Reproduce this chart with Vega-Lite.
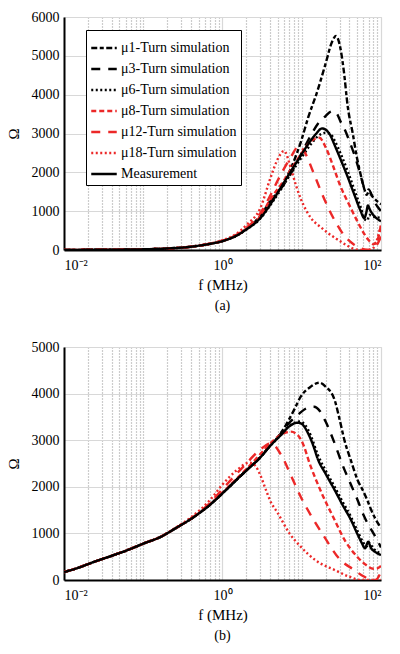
{
  "$schema": "https://vega.github.io/schema/vega-lite/v6.json",
  "background": "white",
  "padding": {"left": 5, "top": 9, "right": 5, "bottom": 5},
  "config": {
    "font": "Times New Roman",
    "view": {"stroke": "#d4d4d4", "strokeWidth": 1},
    "axis": {
      "labelFont": "Times New Roman",
      "titleFont": "Times New Roman",
      "labelFontSize": 14,
      "titleFontSize": 15,
      "titleFontWeight": "normal",
      "labelColor": "black",
      "titleColor": "black",
      "domainColor": "black",
      "domainWidth": 2,
      "gridColor": "#d8d8d8",
      "gridWidth": 1.2,
      "ticks": false
    },
    "legend": {
      "labelFont": "Times New Roman",
      "labelFontSize": 14,
      "labelColor": "black",
      "symbolType": "stroke",
      "symbolSize": 650,
      "symbolStrokeWidth": 2.4,
      "strokeColor": "black",
      "fillColor": "white",
      "padding": 4,
      "rowPadding": 0,
      "labelOffset": 3,
      "labelLimit": 200
    },
    "title": {"font": "Times New Roman", "fontSize": 14, "fontWeight": "normal", "color": "black", "orient": "bottom", "offset": 7}
  },
  "datasets": {
    "top": [
      {"s": "1", "f": 0.01, "z": 3}, {"s": "1", "f": 0.02, "z": 5}, {"s": "1", "f": 0.05, "z": 10}, {"s": "1", "f": 0.1, "z": 18}, {"s": "1", "f": 0.2, "z": 38}, {"s": "1", "f": 0.4, "z": 85}, {"s": "1", "f": 0.7, "z": 160}, {"s": "1", "f": 1, "z": 235}, {"s": "1", "f": 1.5, "z": 380}, {"s": "1", "f": 2, "z": 545},
      {"s": "1", "f": 3, "z": 880}, {"s": "1", "f": 4, "z": 1260}, {"s": "1", "f": 5, "z": 1500}, {"s": "1", "f": 6, "z": 1750}, {"s": "1", "f": 8, "z": 2300}, {"s": "1", "f": 9.8, "z": 2800}, {"s": "1", "f": 12, "z": 3400}, {"s": "1", "f": 15.8, "z": 4100}, {"s": "1", "f": 20, "z": 4800}, {"s": "1", "f": 24, "z": 5350}, {"s": "1", "f": 27, "z": 5510}, {"s": "1", "f": 30, "z": 5300}, {"s": "1", "f": 34, "z": 4600}, {"s": "1", "f": 38, "z": 3700}, {"s": "1", "f": 44, "z": 3000}, {"s": "1", "f": 50, "z": 2350}, {"s": "1", "f": 56, "z": 1900}, {"s": "1", "f": 62, "z": 1550}, {"s": "1", "f": 66, "z": 1420}, {"s": "1", "f": 70, "z": 1500}, {"s": "1", "f": 80, "z": 1350}, {"s": "1", "f": 90, "z": 1250}, {"s": "1", "f": 100, "z": 1180},
      {"s": "3", "f": 0.01, "z": 3}, {"s": "3", "f": 0.02, "z": 5}, {"s": "3", "f": 0.05, "z": 10}, {"s": "3", "f": 0.1, "z": 18}, {"s": "3", "f": 0.2, "z": 38}, {"s": "3", "f": 0.4, "z": 85}, {"s": "3", "f": 0.7, "z": 160}, {"s": "3", "f": 1, "z": 232}, {"s": "3", "f": 1.5, "z": 375}, {"s": "3", "f": 2, "z": 540},
      {"s": "3", "f": 3, "z": 870}, {"s": "3", "f": 4, "z": 1250}, {"s": "3", "f": 5, "z": 1480}, {"s": "3", "f": 6, "z": 1700}, {"s": "3", "f": 8, "z": 2120}, {"s": "3", "f": 10, "z": 2500}, {"s": "3", "f": 13, "z": 2950}, {"s": "3", "f": 16, "z": 3250}, {"s": "3", "f": 20, "z": 3450}, {"s": "3", "f": 23, "z": 3560}, {"s": "3", "f": 25, "z": 3580}, {"s": "3", "f": 28, "z": 3500}, {"s": "3", "f": 31, "z": 3300}, {"s": "3", "f": 34, "z": 3150}, {"s": "3", "f": 40, "z": 2800}, {"s": "3", "f": 46, "z": 2460}, {"s": "3", "f": 54, "z": 2000}, {"s": "3", "f": 61.5, "z": 1600}, {"s": "3", "f": 66, "z": 1500}, {"s": "3", "f": 70, "z": 1560}, {"s": "3", "f": 80, "z": 1300}, {"s": "3", "f": 90, "z": 1120}, {"s": "3", "f": 100, "z": 1000},
      {"s": "6", "f": 0.01, "z": 3}, {"s": "6", "f": 0.02, "z": 5}, {"s": "6", "f": 0.05, "z": 10}, {"s": "6", "f": 0.1, "z": 18}, {"s": "6", "f": 0.2, "z": 38}, {"s": "6", "f": 0.4, "z": 85}, {"s": "6", "f": 0.7, "z": 160}, {"s": "6", "f": 1, "z": 228}, {"s": "6", "f": 1.5, "z": 365}, {"s": "6", "f": 2, "z": 525},
      {"s": "6", "f": 3, "z": 810}, {"s": "6", "f": 4, "z": 1150}, {"s": "6", "f": 5.5, "z": 1570}, {"s": "6", "f": 7.3, "z": 1970}, {"s": "6", "f": 10, "z": 2390}, {"s": "6", "f": 13, "z": 2720}, {"s": "6", "f": 16, "z": 2930}, {"s": "6", "f": 20, "z": 3020}, {"s": "6", "f": 23, "z": 2990}, {"s": "6", "f": 26, "z": 2820}, {"s": "6", "f": 31, "z": 2480}, {"s": "6", "f": 38, "z": 2030}, {"s": "6", "f": 46, "z": 1560}, {"s": "6", "f": 55, "z": 1120}, {"s": "6", "f": 63, "z": 780}, {"s": "6", "f": 67, "z": 760}, {"s": "6", "f": 71, "z": 900}, {"s": "6", "f": 80, "z": 860}, {"s": "6", "f": 90, "z": 840}, {"s": "6", "f": 100, "z": 830},
      {"s": "8", "f": 0.01, "z": 3}, {"s": "8", "f": 0.02, "z": 5}, {"s": "8", "f": 0.05, "z": 10}, {"s": "8", "f": 0.1, "z": 18}, {"s": "8", "f": 0.2, "z": 38}, {"s": "8", "f": 0.4, "z": 85}, {"s": "8", "f": 0.7, "z": 160}, {"s": "8", "f": 1, "z": 232}, {"s": "8", "f": 1.5, "z": 375}, {"s": "8", "f": 2, "z": 545},
      {"s": "8", "f": 3, "z": 870}, {"s": "8", "f": 4, "z": 1300}, {"s": "8", "f": 6, "z": 1800}, {"s": "8", "f": 8, "z": 2200}, {"s": "8", "f": 10, "z": 2500}, {"s": "8", "f": 13, "z": 2800}, {"s": "8", "f": 16.7, "z": 2890}, {"s": "8", "f": 20, "z": 2650}, {"s": "8", "f": 25, "z": 2150}, {"s": "8", "f": 30, "z": 1700}, {"s": "8", "f": 40, "z": 1150}, {"s": "8", "f": 50, "z": 750}, {"s": "8", "f": 60, "z": 450}, {"s": "8", "f": 70, "z": 250}, {"s": "8", "f": 80, "z": 150}, {"s": "8", "f": 90, "z": 250}, {"s": "8", "f": 100, "z": 650},
      {"s": "12", "f": 0.01, "z": 3}, {"s": "12", "f": 0.02, "z": 5}, {"s": "12", "f": 0.05, "z": 10}, {"s": "12", "f": 0.1, "z": 18}, {"s": "12", "f": 0.2, "z": 38}, {"s": "12", "f": 0.4, "z": 85}, {"s": "12", "f": 0.7, "z": 162}, {"s": "12", "f": 1, "z": 238}, {"s": "12", "f": 1.5, "z": 390}, {"s": "12", "f": 2, "z": 570},
      {"s": "12", "f": 3, "z": 950}, {"s": "12", "f": 4, "z": 1400}, {"s": "12", "f": 5, "z": 1800}, {"s": "12", "f": 6, "z": 2100}, {"s": "12", "f": 7.3, "z": 2400}, {"s": "12", "f": 9.3, "z": 2680}, {"s": "12", "f": 11, "z": 2500}, {"s": "12", "f": 14, "z": 2000}, {"s": "12", "f": 18, "z": 1450}, {"s": "12", "f": 22, "z": 1050}, {"s": "12", "f": 28, "z": 650}, {"s": "12", "f": 35, "z": 350}, {"s": "12", "f": 45, "z": 150}, {"s": "12", "f": 55, "z": 50}, {"s": "12", "f": 70, "z": 5}, {"s": "12", "f": 80, "z": 60}, {"s": "12", "f": 90, "z": 150}, {"s": "12", "f": 100, "z": 350},
      {"s": "18", "f": 0.01, "z": 3}, {"s": "18", "f": 0.02, "z": 5}, {"s": "18", "f": 0.05, "z": 10}, {"s": "18", "f": 0.1, "z": 18}, {"s": "18", "f": 0.2, "z": 39}, {"s": "18", "f": 0.4, "z": 88}, {"s": "18", "f": 0.7, "z": 168}, {"s": "18", "f": 1, "z": 250}, {"s": "18", "f": 1.5, "z": 420}, {"s": "18", "f": 2, "z": 640},
      {"s": "18", "f": 3, "z": 1080}, {"s": "18", "f": 4.1, "z": 1900}, {"s": "18", "f": 5, "z": 2350}, {"s": "18", "f": 6, "z": 2550}, {"s": "18", "f": 7.3, "z": 2100}, {"s": "18", "f": 8.5, "z": 1650}, {"s": "18", "f": 9.8, "z": 1300}, {"s": "18", "f": 13, "z": 830}, {"s": "18", "f": 17.7, "z": 574}, {"s": "18", "f": 22, "z": 420}, {"s": "18", "f": 28, "z": 275}, {"s": "18", "f": 35, "z": 150}, {"s": "18", "f": 40, "z": 80}, {"s": "18", "f": 50, "z": 10}, {"s": "18", "f": 60, "z": 0}, {"s": "18", "f": 75, "z": 0}, {"s": "18", "f": 85, "z": 150}, {"s": "18", "f": 100, "z": 650},
      {"s": "M", "f": 0.01, "z": 3}, {"s": "M", "f": 0.02, "z": 5}, {"s": "M", "f": 0.05, "z": 10}, {"s": "M", "f": 0.1, "z": 18}, {"s": "M", "f": 0.2, "z": 38}, {"s": "M", "f": 0.4, "z": 85}, {"s": "M", "f": 0.7, "z": 160}, {"s": "M", "f": 1, "z": 230}, {"s": "M", "f": 1.5, "z": 370}, {"s": "M", "f": 2, "z": 530},
      {"s": "M", "f": 3, "z": 820}, {"s": "M", "f": 4, "z": 1170}, {"s": "M", "f": 5.5, "z": 1620}, {"s": "M", "f": 7.3, "z": 2030}, {"s": "M", "f": 10, "z": 2470}, {"s": "M", "f": 12, "z": 2720}, {"s": "M", "f": 15, "z": 2980}, {"s": "M", "f": 18, "z": 3130}, {"s": "M", "f": 20, "z": 3100}, {"s": "M", "f": 23, "z": 2950}, {"s": "M", "f": 26, "z": 2700}, {"s": "M", "f": 31, "z": 2330}, {"s": "M", "f": 38, "z": 1880}, {"s": "M", "f": 46, "z": 1430}, {"s": "M", "f": 55, "z": 1020}, {"s": "M", "f": 61.5, "z": 820}, {"s": "M", "f": 65, "z": 950}, {"s": "M", "f": 68.5, "z": 1150}, {"s": "M", "f": 72, "z": 1050}, {"s": "M", "f": 80, "z": 900}, {"s": "M", "f": 90, "z": 800}, {"s": "M", "f": 100, "z": 740}
    ],
    "bot": [
      {"s": "1", "f": 0.01, "z": 170}, {"s": "1", "f": 0.015, "z": 260}, {"s": "1", "f": 0.024, "z": 390}, {"s": "1", "f": 0.04, "z": 520}, {"s": "1", "f": 0.064, "z": 644}, {"s": "1", "f": 0.1, "z": 780}, {"s": "1", "f": 0.168, "z": 930}, {"s": "1", "f": 0.25, "z": 1100}, {"s": "1", "f": 0.44, "z": 1359}, {"s": "1", "f": 0.7, "z": 1620}, {"s": "1", "f": 1.05, "z": 1895}, {"s": "1", "f": 1.5, "z": 2150}, {"s": "1", "f": 2, "z": 2350}, {"s": "1", "f": 3.06, "z": 2650},
      {"s": "1", "f": 4, "z": 2890}, {"s": "1", "f": 5, "z": 3070}, {"s": "1", "f": 6, "z": 3262}, {"s": "1", "f": 8, "z": 3650}, {"s": "1", "f": 9.7, "z": 3933}, {"s": "1", "f": 13, "z": 4150}, {"s": "1", "f": 16.7, "z": 4235}, {"s": "1", "f": 20, "z": 4150}, {"s": "1", "f": 26, "z": 3863}, {"s": "1", "f": 30, "z": 3450}, {"s": "1", "f": 34.5, "z": 3004}, {"s": "1", "f": 42, "z": 2550}, {"s": "1", "f": 50.6, "z": 2146}, {"s": "1", "f": 60, "z": 1900}, {"s": "1", "f": 67, "z": 1717}, {"s": "1", "f": 80, "z": 1400}, {"s": "1", "f": 100, "z": 1120},
      {"s": "3", "f": 0.01, "z": 170}, {"s": "3", "f": 0.015, "z": 260}, {"s": "3", "f": 0.024, "z": 390}, {"s": "3", "f": 0.04, "z": 520}, {"s": "3", "f": 0.064, "z": 644}, {"s": "3", "f": 0.1, "z": 780}, {"s": "3", "f": 0.168, "z": 930}, {"s": "3", "f": 0.25, "z": 1100}, {"s": "3", "f": 0.44, "z": 1359}, {"s": "3", "f": 0.7, "z": 1620}, {"s": "3", "f": 1.05, "z": 1895}, {"s": "3", "f": 1.5, "z": 2150}, {"s": "3", "f": 2, "z": 2350}, {"s": "3", "f": 3.06, "z": 2650},
      {"s": "3", "f": 4, "z": 2885}, {"s": "3", "f": 5, "z": 3060}, {"s": "3", "f": 6, "z": 3250}, {"s": "3", "f": 9, "z": 3550}, {"s": "3", "f": 12, "z": 3700}, {"s": "3", "f": 14.3, "z": 3719}, {"s": "3", "f": 17, "z": 3620}, {"s": "3", "f": 20, "z": 3400}, {"s": "3", "f": 26, "z": 2933}, {"s": "3", "f": 33, "z": 2450}, {"s": "3", "f": 40, "z": 2120}, {"s": "3", "f": 50.6, "z": 1717}, {"s": "3", "f": 60, "z": 1400}, {"s": "3", "f": 70, "z": 1170}, {"s": "3", "f": 78, "z": 1037}, {"s": "3", "f": 90, "z": 850}, {"s": "3", "f": 100, "z": 700},
      {"s": "6", "f": 0.01, "z": 170}, {"s": "6", "f": 0.015, "z": 260}, {"s": "6", "f": 0.024, "z": 390}, {"s": "6", "f": 0.04, "z": 520}, {"s": "6", "f": 0.064, "z": 644}, {"s": "6", "f": 0.1, "z": 780}, {"s": "6", "f": 0.168, "z": 930}, {"s": "6", "f": 0.25, "z": 1100}, {"s": "6", "f": 0.44, "z": 1359}, {"s": "6", "f": 0.7, "z": 1620}, {"s": "6", "f": 1.05, "z": 1895}, {"s": "6", "f": 1.5, "z": 2150}, {"s": "6", "f": 2, "z": 2350}, {"s": "6", "f": 3.06, "z": 2650},
      {"s": "6", "f": 4, "z": 2880}, {"s": "6", "f": 5.47, "z": 3115}, {"s": "6", "f": 7, "z": 3310}, {"s": "6", "f": 9.5, "z": 3400}, {"s": "6", "f": 11, "z": 3330}, {"s": "6", "f": 13, "z": 3100}, {"s": "6", "f": 16, "z": 2680}, {"s": "6", "f": 20, "z": 2350}, {"s": "6", "f": 26, "z": 2000}, {"s": "6", "f": 33, "z": 1670}, {"s": "6", "f": 42, "z": 1350}, {"s": "6", "f": 50, "z": 1070}, {"s": "6", "f": 60, "z": 800}, {"s": "6", "f": 66, "z": 720}, {"s": "6", "f": 70, "z": 800}, {"s": "6", "f": 80, "z": 680}, {"s": "6", "f": 100, "z": 560},
      {"s": "8", "f": 0.01, "z": 170}, {"s": "8", "f": 0.015, "z": 260}, {"s": "8", "f": 0.024, "z": 390}, {"s": "8", "f": 0.04, "z": 520}, {"s": "8", "f": 0.064, "z": 644}, {"s": "8", "f": 0.1, "z": 780}, {"s": "8", "f": 0.168, "z": 930}, {"s": "8", "f": 0.25, "z": 1100}, {"s": "8", "f": 0.44, "z": 1362}, {"s": "8", "f": 0.7, "z": 1630}, {"s": "8", "f": 1.05, "z": 1910}, {"s": "8", "f": 1.5, "z": 2170}, {"s": "8", "f": 2, "z": 2380},
      {"s": "8", "f": 3, "z": 2700}, {"s": "8", "f": 4, "z": 2930}, {"s": "8", "f": 5.5, "z": 3120}, {"s": "8", "f": 7.3, "z": 3183}, {"s": "8", "f": 9, "z": 3100}, {"s": "8", "f": 10, "z": 2980}, {"s": "8", "f": 13, "z": 2432}, {"s": "8", "f": 18, "z": 1850}, {"s": "8", "f": 26, "z": 1288}, {"s": "8", "f": 35, "z": 850}, {"s": "8", "f": 50, "z": 501}, {"s": "8", "f": 65, "z": 320}, {"s": "8", "f": 80, "z": 240}, {"s": "8", "f": 90, "z": 250}, {"s": "8", "f": 100, "z": 300},
      {"s": "12", "f": 0.01, "z": 170}, {"s": "12", "f": 0.015, "z": 260}, {"s": "12", "f": 0.024, "z": 390}, {"s": "12", "f": 0.04, "z": 520}, {"s": "12", "f": 0.064, "z": 644}, {"s": "12", "f": 0.1, "z": 780}, {"s": "12", "f": 0.168, "z": 930}, {"s": "12", "f": 0.25, "z": 1100}, {"s": "12", "f": 0.44, "z": 1370}, {"s": "12", "f": 0.7, "z": 1660}, {"s": "12", "f": 1, "z": 1950},
      {"s": "12", "f": 2, "z": 2500}, {"s": "12", "f": 3, "z": 2800}, {"s": "12", "f": 4.1, "z": 2933}, {"s": "12", "f": 5.5, "z": 2682}, {"s": "12", "f": 7.5, "z": 2200}, {"s": "12", "f": 9.7, "z": 1788}, {"s": "12", "f": 14, "z": 1300}, {"s": "12", "f": 19.2, "z": 930}, {"s": "12", "f": 30, "z": 450}, {"s": "12", "f": 46, "z": 215}, {"s": "12", "f": 60, "z": 80}, {"s": "12", "f": 75, "z": 10}, {"s": "12", "f": 85, "z": 0}, {"s": "12", "f": 100, "z": 180},
      {"s": "18", "f": 0.01, "z": 170}, {"s": "18", "f": 0.015, "z": 260}, {"s": "18", "f": 0.024, "z": 390}, {"s": "18", "f": 0.04, "z": 520}, {"s": "18", "f": 0.064, "z": 644}, {"s": "18", "f": 0.1, "z": 780}, {"s": "18", "f": 0.168, "z": 935}, {"s": "18", "f": 0.25, "z": 1110}, {"s": "18", "f": 0.44, "z": 1400}, {"s": "18", "f": 0.7, "z": 1720}, {"s": "18", "f": 1, "z": 2050},
      {"s": "18", "f": 1.5, "z": 2350}, {"s": "18", "f": 2.2, "z": 2520}, {"s": "18", "f": 2.6, "z": 2450}, {"s": "18", "f": 3, "z": 2250}, {"s": "18", "f": 3.5, "z": 1950}, {"s": "18", "f": 4, "z": 1700}, {"s": "18", "f": 5, "z": 1431}, {"s": "18", "f": 7, "z": 1000}, {"s": "18", "f": 9.7, "z": 715}, {"s": "18", "f": 15, "z": 420}, {"s": "18", "f": 26, "z": 215}, {"s": "18", "f": 40, "z": 70}, {"s": "18", "f": 55, "z": 0}, {"s": "18", "f": 80, "z": 0}, {"s": "18", "f": 100, "z": 0},
      {"s": "M", "f": 0.01, "z": 170}, {"s": "M", "f": 0.015, "z": 260}, {"s": "M", "f": 0.024, "z": 390}, {"s": "M", "f": 0.04, "z": 520}, {"s": "M", "f": 0.064, "z": 644}, {"s": "M", "f": 0.1, "z": 780}, {"s": "M", "f": 0.168, "z": 930}, {"s": "M", "f": 0.25, "z": 1100}, {"s": "M", "f": 0.44, "z": 1359}, {"s": "M", "f": 0.7, "z": 1620}, {"s": "M", "f": 1.05, "z": 1895}, {"s": "M", "f": 1.5, "z": 2150}, {"s": "M", "f": 2, "z": 2350}, {"s": "M", "f": 3.06, "z": 2646},
      {"s": "M", "f": 4, "z": 2880}, {"s": "M", "f": 5.47, "z": 3112}, {"s": "M", "f": 7, "z": 3300}, {"s": "M", "f": 8.9, "z": 3376}, {"s": "M", "f": 10, "z": 3350}, {"s": "M", "f": 12, "z": 3150}, {"s": "M", "f": 14, "z": 2880}, {"s": "M", "f": 15.9, "z": 2600}, {"s": "M", "f": 20, "z": 2280}, {"s": "M", "f": 26, "z": 1931}, {"s": "M", "f": 33, "z": 1600}, {"s": "M", "f": 41.8, "z": 1288}, {"s": "M", "f": 50, "z": 1000}, {"s": "M", "f": 57, "z": 800}, {"s": "M", "f": 63, "z": 680}, {"s": "M", "f": 66, "z": 760}, {"s": "M", "f": 69, "z": 822}, {"s": "M", "f": 74, "z": 700}, {"s": "M", "f": 85, "z": 600}, {"s": "M", "f": 100, "z": 536}
    ]
  },
  "vconcat": [
    {
      "width": 317,
      "height": 233,
      "title": "(a)",
      "data": {"name": "top"},
      "mark": {"type": "line", "interpolate": "monotone", "strokeWidth": 2.4, "clip": true},
      "encoding": {
        "x": {
          "field": "f",
          "type": "quantitative",
          "scale": {"type": "log", "domain": [0.01, 100], "nice": false},
          "axis": {
            "title": "f (MHz)",
            "titlePadding": 5,
            "labelPadding": 8,
            "labelOverlap": false,
            "values": [0.01, 0.02, 0.03, 0.04, 0.05, 0.06, 0.07, 0.08, 0.09, 0.1, 0.2, 0.3, 0.4, 0.5, 0.6, 0.7, 0.8, 0.9, 1, 2, 3, 4, 5, 6, 7, 8, 9, 10, 20, 30, 40, 50, 60, 70, 80, 90, 100],
            "labelExpr": "datum.value == 0.01 ? '10⁻²' : datum.value == 1 ? '10⁰' : datum.value == 100 ? '10²' : ''",
            "gridDash": {"condition": {"test": "datum.value == 0.01 || datum.value == 1 || datum.value == 100", "value": []}, "value": [1, 2]},
            "gridColor": {"condition": {"test": "datum.value == 0.01 || datum.value == 1 || datum.value == 100", "value": "#d8d8d8"}, "value": "#9a9a9a"}
          }
        },
        "y": {
          "field": "z",
          "type": "quantitative",
          "scale": {"domain": [0, 6000], "nice": false},
          "axis": {"title": "Ω", "titlePadding": 10, "labelPadding": 5, "format": "d", "values": [0, 1000, 2000, 3000, 4000, 5000, 6000]}
        },
        "color": {
          "field": "s",
          "type": "nominal",
          "scale": {"domain": ["1", "3", "6", "8", "12", "18", "M"], "range": ["#000000", "#000000", "#000000", "#ec2828", "#ec2828", "#ec2828", "#000000"]},
          "legend": {"orient": "none", "legendX": 22, "legendY": 13, "title": null, "labelExpr": "datum.label == 'M' ? 'Measurement' : 'μ' + datum.label + '-Turn simulation'"}
        },
        "strokeDash": {
          "field": "s",
          "type": "nominal",
          "scale": {"domain": ["1", "3", "6", "8", "12", "18", "M"], "range": [[6, 2.5, 4, 2.5], [9, 8], [2, 2.5], [5, 3], [9, 8], [2, 2.5], [1, 0]]},
          "legend": {"orient": "none", "legendX": 22, "legendY": 13, "title": null, "labelExpr": "datum.label == 'M' ? 'Measurement' : 'μ' + datum.label + '-Turn simulation'"}
        }
      }
    },
    {
      "width": 317,
      "height": 233,
      "title": "(b)",
      "data": {"name": "bot"},
      "mark": {"type": "line", "interpolate": "monotone", "strokeWidth": 2.4, "clip": true},
      "encoding": {
        "x": {
          "field": "f",
          "type": "quantitative",
          "scale": {"type": "log", "domain": [0.01, 100], "nice": false},
          "axis": {
            "title": "f (MHz)",
            "titlePadding": 5,
            "labelPadding": 8,
            "labelOverlap": false,
            "values": [0.01, 0.02, 0.03, 0.04, 0.05, 0.06, 0.07, 0.08, 0.09, 0.1, 0.2, 0.3, 0.4, 0.5, 0.6, 0.7, 0.8, 0.9, 1, 2, 3, 4, 5, 6, 7, 8, 9, 10, 20, 30, 40, 50, 60, 70, 80, 90, 100],
            "labelExpr": "datum.value == 0.01 ? '10⁻²' : datum.value == 1 ? '10⁰' : datum.value == 100 ? '10²' : ''",
            "gridDash": {"condition": {"test": "datum.value == 0.01 || datum.value == 1 || datum.value == 100", "value": []}, "value": [1, 2]},
            "gridColor": {"condition": {"test": "datum.value == 0.01 || datum.value == 1 || datum.value == 100", "value": "#d8d8d8"}, "value": "#9a9a9a"}
          }
        },
        "y": {
          "field": "z",
          "type": "quantitative",
          "scale": {"domain": [0, 5000], "nice": false},
          "axis": {"title": "Ω", "titlePadding": 10, "labelPadding": 5, "format": "d", "values": [0, 1000, 2000, 3000, 4000, 5000]}
        },
        "color": {
          "field": "s",
          "type": "nominal",
          "scale": {"domain": ["1", "3", "6", "8", "12", "18", "M"], "range": ["#000000", "#000000", "#000000", "#ec2828", "#ec2828", "#ec2828", "#000000"]},
          "legend": null
        },
        "strokeDash": {
          "field": "s",
          "type": "nominal",
          "scale": {"domain": ["1", "3", "6", "8", "12", "18", "M"], "range": [[6, 2.5, 4, 2.5], [9, 8], [2, 2.5], [5, 3], [9, 8], [2, 2.5], [1, 0]]},
          "legend": null
        }
      }
    }
  ],
  "spacing": 25,
  "resolve": {
    "scale": {"color": "independent", "strokeDash": "independent"},
    "legend": {"color": "independent", "strokeDash": "independent"}
  }
}
